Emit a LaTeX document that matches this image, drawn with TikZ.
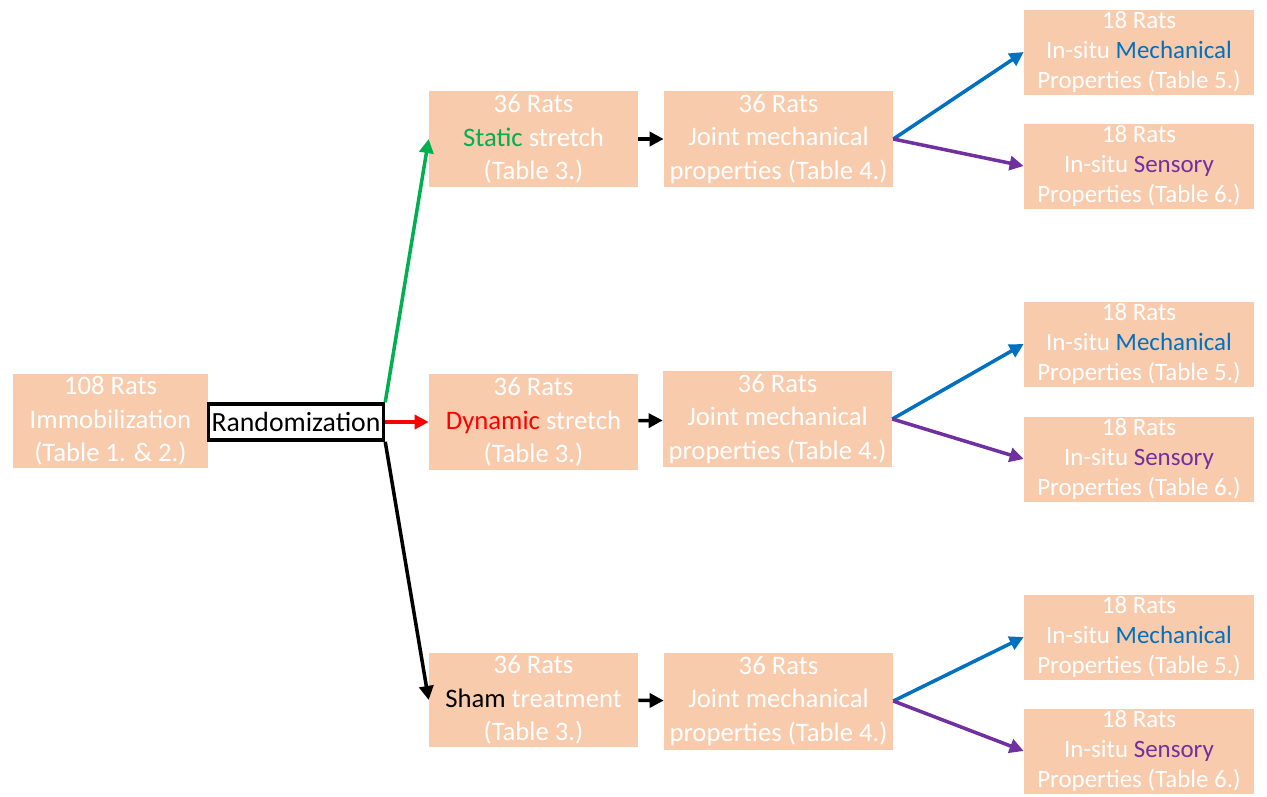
\documentclass[tikz,border=0pt]{standalone}
\usepackage{fontspec}
\setmainfont{Carlito}
\usetikzlibrary{arrows.meta}
\definecolor{peach}{HTML}{F8CBAD}
\definecolor{ogreen}{HTML}{00B050}
\definecolor{oblue}{HTML}{0070C0}
\definecolor{opurple}{HTML}{7030A0}
\begin{document}
\begin{tikzpicture}[x=0.02cm, y=-0.02cm,
  box/.style={fill=peach, text=white, align=center, inner sep=0pt, font=\fontsize{15.2}{19}\selectfont},
  smallbox/.style={box, minimum width=4.6cm, minimum height=1.7cm, font=\fontsize{14.2}{17}\selectfont},
  arr/.style={line width=2pt, -{Triangle[length=8pt, width=8pt]}}]
\useasboundingbox (0,0) rectangle (1267,796);

\node (start) at (110.5,421) [box, minimum width=3.9cm, minimum height=1.88cm] {108 Rats\\Immobilization\\(Table 1. \& 2.)};
\node (rand) at (296,422) [draw, line width=2pt, fill=white, inner sep=0pt, minimum width=3.5cm, minimum height=0.72cm, font=\fontsize{15.8}{19}\selectfont] {Randomization};

\node (static) at (533.5,139) [box, minimum width=4.18cm, minimum height=1.92cm] {36 Rats\\\textcolor{ogreen}{Static} stretch\\(Table 3.)};
\node (dynamic) at (533.5,422) [box, minimum width=4.18cm, minimum height=1.92cm] {36 Rats\\\textcolor{red}{Dynamic} stretch\\(Table 3.)};
\node (sham) at (533.5,700) [box, minimum width=4.18cm, minimum height=1.88cm] {36 Rats\\\textcolor{black}{Sham} treatment\\(Table 3.)};

\node (joint1) at (778.5,139) [box, minimum width=4.58cm, minimum height=1.92cm] {36 Rats\\Joint mechanical\\properties (Table 4.)};
\node (joint2) at (777.5,419) [box, minimum width=4.58cm, minimum height=1.92cm] {36 Rats\\Joint mechanical\\properties (Table 4.)};
\node (joint3) at (778.5,701) [box, minimum width=4.58cm, minimum height=1.94cm] {36 Rats\\Joint mechanical\\properties (Table 4.)};

\node (mech1) at (1139,52) [smallbox] {18 Rats\\In-situ \textcolor{oblue}{Mechanical}\\Properties (Table 5.)};
\node (sens1) at (1139,166) [smallbox] {18 Rats\\In-situ \textcolor{opurple}{Sensory}\\Properties (Table 6.)};
\node (mech2) at (1139,344) [smallbox] {18 Rats\\In-situ \textcolor{oblue}{Mechanical}\\Properties (Table 5.)};
\node (sens2) at (1139,459) [smallbox] {18 Rats\\In-situ \textcolor{opurple}{Sensory}\\Properties (Table 6.)};
\node (mech3) at (1139,637) [smallbox] {18 Rats\\In-situ \textcolor{oblue}{Mechanical}\\Properties (Table 5.)};
\node (sens3) at (1139,751) [smallbox] {18 Rats\\In-situ \textcolor{opurple}{Sensory}\\Properties (Table 6.)};

\draw[arr, ogreen] (rand.north east) -- (static.west);
\draw[arr, red] (rand.east) -- (dynamic.west);
\draw[arr, black] (rand.south east) -- (sham.west);

\draw[arr] (static) -- (joint1);
\draw[arr] (dynamic) -- (joint2);
\draw[arr] (sham) -- (joint3);

\draw[arr, oblue] (joint1.east) -- (mech1.west);
\draw[arr, opurple] (joint1.east) -- (sens1.west);
\draw[arr, oblue] (joint2.east) -- (mech2.west);
\draw[arr, opurple] (joint2.east) -- (sens2.west);
\draw[arr, oblue] (joint3.east) -- (mech3.west);
\draw[arr, opurple] (joint3.east) -- (sens3.west);
\end{tikzpicture}
\end{document}
